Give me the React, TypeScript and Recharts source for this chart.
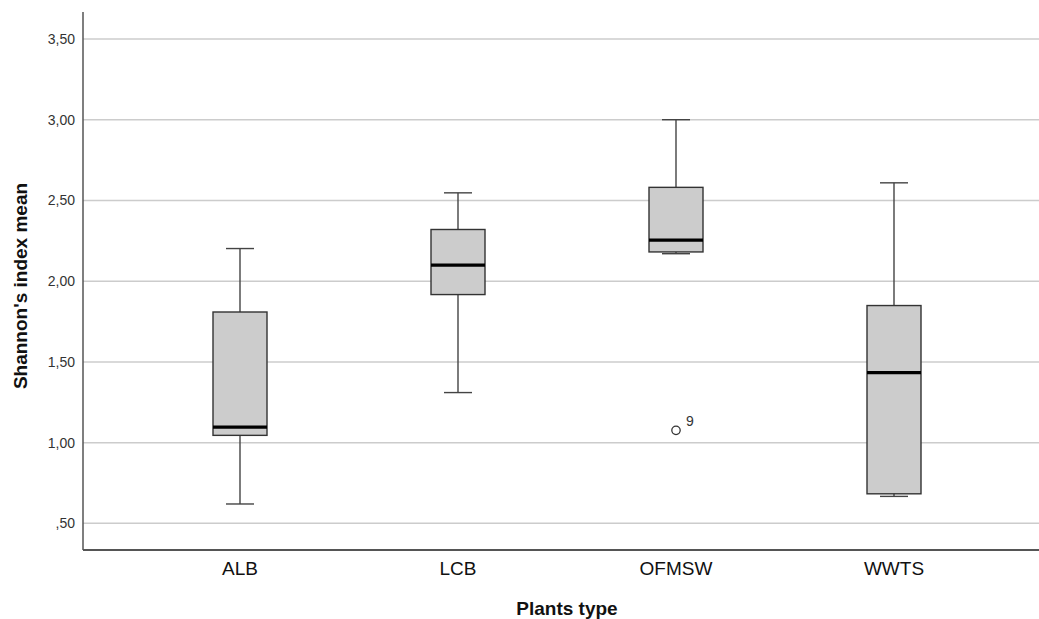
import { ComposedChart, Bar, Scatter, XAxis, YAxis, CartesianGrid } from 'recharts'

const plants = ['ALB', 'LCB', 'OFMSW', 'WWTS']
const whiskerLow = [0.62, 1.31, 2.17, 0.667]
const q1 = [1.045, 1.917, 2.181, 0.683]
const median = [1.096, 2.099, 2.254, 1.434]
const q3 = [1.809, 2.32, 2.581, 1.849]
const whiskerHigh = [2.202, 2.547, 3.0, 2.609]
const outliers = [{ name: 'OFMSW', value: 1.076, id: '9' }]
const yTicks = [0.5, 1, 1.5, 2, 2.5, 3, 3.5]

const data = plants.map((name, i) => ({
  name,
  whisker: [whiskerLow[i], whiskerHigh[i]],
  box: [q1[i], q3[i]],
  median: median[i],
}))

const FONT = '"Liberation Sans", Arial, sans-serif'
const PAD = { left: 48, right: 36 }
const BOX_W = 54

const fmt = (v: number) => v.toFixed(2).replace('.', ',').replace(/^0/, '')

// whisker line with caps
const WhiskerShape = (props: any) => {
  const { x, y, width, height } = props
  const top = Math.min(y, y + height)
  const bottom = Math.max(y, y + height)
  const cx = x + width / 2
  return (
    <g stroke="#444" strokeWidth={1.4}>
      <line x1={cx} x2={cx} y1={top} y2={bottom} />
      <line x1={x} x2={x + width} y1={top} y2={top} />
      <line x1={x} x2={x + width} y1={bottom} y2={bottom} />
    </g>
  )
}

const BoxShape = (props: any) => {
  const { x, y, width, height } = props
  const top = Math.min(y, y + height)
  return (
    <rect x={x} y={top} width={width} height={Math.abs(height)} fill="#cccccc" stroke="#333" strokeWidth={1.4} />
  )
}

const MedianShape = (props: any) => {
  const { cx, cy } = props
  return <line x1={cx - BOX_W / 2} x2={cx + BOX_W / 2} y1={cy} y2={cy} stroke="#000" strokeWidth={3.3} />
}

const OutlierShape = (props: any) => {
  const { cx, cy, payload } = props
  return (
    <g>
      <circle cx={cx} cy={cy} r={4.2} fill="#fff" stroke="#333" strokeWidth={1.3} />
      <text x={cx + 10} y={cy - 4} fontSize={14} fontFamily={FONT} fill="#333">{payload.id}</text>
    </g>
  )
}

export default function App() {
  return (
    <div style={{ position: 'absolute', left: 0, top: 0, background: '#fff' }}>
      <ComposedChart width={1039} height={619} data={data} margin={{ top: 12, right: 0, bottom: 39, left: 0 }}>
        <CartesianGrid vertical={false} horizontalValues={yTicks} stroke="#cccccc" strokeWidth={1.5} />
        <XAxis
          dataKey="name"
          allowDuplicatedCategory={false}
          padding={PAD}
          height={30}
          tickLine={false}
          tickMargin={6}
          axisLine={{ stroke: '#555', strokeWidth: 2 }}
          tick={{ fill: '#111', fontSize: 19, fontFamily: FONT }}
          label={{
            content: (p: any) => (
              <text x={p.viewBox.x + p.viewBox.width / 2 + 6} y={p.viewBox.y + 65} textAnchor="middle" fontSize={19} fontWeight="bold" fontFamily={FONT} fill="#111">
                Plants type
              </text>
            ),
          }}
        />
        <XAxis xAxisId="w" dataKey="name" hide padding={PAD} />
        <XAxis xAxisId="b" dataKey="name" hide padding={PAD} />
        <YAxis
          width={83}
          domain={[0.335, 3.667]}
          ticks={yTicks}
          type="number"
          allowDataOverflow
          tickFormatter={fmt}
          tickLine={false}
          axisLine={{ stroke: '#555', strokeWidth: 1.5 }}
          tick={{ fill: '#333', fontSize: 14, fontFamily: FONT }}
          label={{
            content: (p: any) => {
              const x = 20
              const y = p.viewBox.y + p.viewBox.height / 2 + 5
              return (
                <text x={x} y={y} transform={`rotate(-90, ${x}, ${y})`} textAnchor="middle" dominantBaseline="central" fontSize={19} fontWeight="bold" fontFamily={FONT} fill="#111">
                  Shannon's index mean
                </text>
              )
            },
          }}
        />
        <Bar xAxisId="w" dataKey="whisker" barSize={28} shape={WhiskerShape} isAnimationActive={false} />
        <Bar xAxisId="b" dataKey="box" barSize={BOX_W} shape={BoxShape} isAnimationActive={false} />
        <Scatter dataKey="median" shape={MedianShape} isAnimationActive={false} />
        <Scatter data={outliers} dataKey="value" shape={OutlierShape} isAnimationActive={false} />
      </ComposedChart>
    </div>
  )
}
